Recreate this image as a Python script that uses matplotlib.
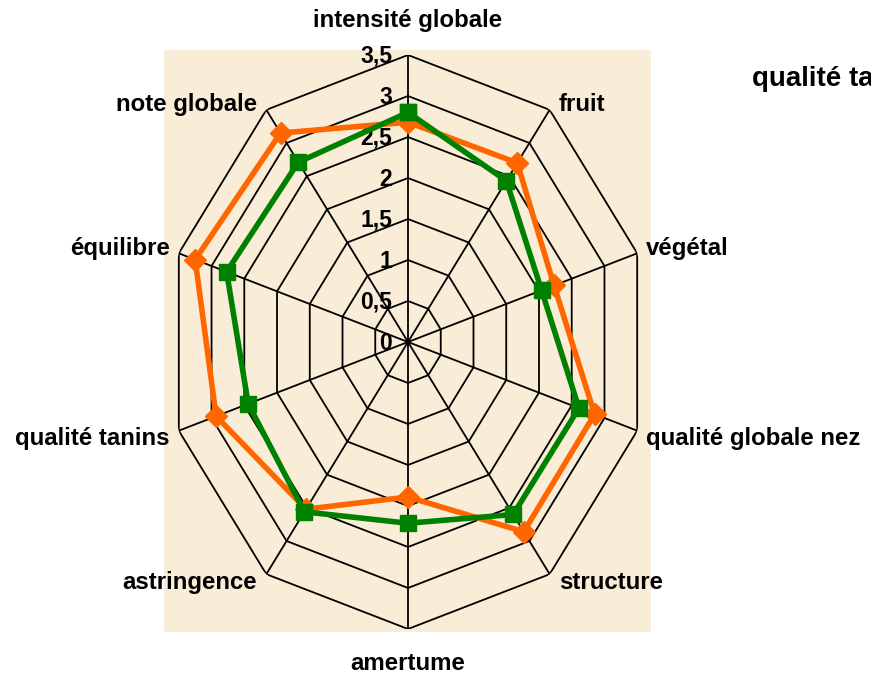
import numpy as np
import matplotlib.pyplot as plt
from matplotlib.patches import Rectangle

plt.rcParams["font.family"] = ["Liberation Sans", "DejaVu Sans"]

# descripteurs (sens horaire depuis le haut)
categories = ["intensité globale", "fruit", "végétal", "qualité globale nez", "structure",
              "amertume", "astringence", "qualité tanins", "équilibre", "note globale"]
serie_orange = [2.68, 2.70, 2.23, 2.85, 2.86, 1.89, 2.52, 2.93, 3.25, 3.15]
serie_verte = [2.80, 2.43, 2.04, 2.61, 2.60, 2.21, 2.56, 2.44, 2.77, 2.71]
niveaux = [0, 0.5, 1, 1.5, 2, 2.5, 3, 3.5]
titre = "qualité tanins"

W, H = 871, 675
fig = plt.figure(figsize=(W / 100, H / 100), dpi=100)

# fond "parchemin" de la zone de tracé
fig.patches.append(Rectangle((164 / W, 1 - 632 / H), 487 / W, 582 / H,
                             transform=fig.transFigure, facecolor="#F9EDD8",
                             edgecolor="none", zorder=-5))

# centre (408, 342), rayon 241 px en x et 287 px en y
ax = fig.add_axes([167 / W, 1 - 629 / H, 482 / W, 574 / H], projection="polar")
ax.set_aspect("auto")
ax.patch.set_visible(False)
ax.set_theta_offset(np.pi / 2)
ax.set_theta_direction(-1)
ax.set_ylim(0, 3.5)
ax.grid(False)
ax.set_xticks([])
ax.set_yticks([])
ax.spines["polar"].set_visible(False)

n = len(categories)
angles = np.linspace(0, 2 * np.pi, n, endpoint=False)
angles_fermes = np.append(angles, angles[0])

# grille polygonale
for lvl in niveaux[1:]:
    ax.plot(angles_fermes, [lvl] * (n + 1), color="black", lw=1.3, zorder=1)
for a in angles:
    ax.plot([a, a], [0, niveaux[-1]], color="black", lw=1.3, zorder=1)

# étiquettes de l'axe radial
for lvl in niveaux:
    ax.annotate(f"{lvl:g}".replace(".", ","), xy=(0, lvl), xytext=(-16, -1),
                textcoords="offset pixels", ha="right", va="center",
                fontsize=16.5, fontweight="bold", annotation_clip=False)

# séries
ax.plot(angles_fermes, serie_orange + serie_orange[:1], color="#FF6600", lw=4,
        marker="D", ms=11.5, zorder=3, clip_on=False)
ax.plot(angles_fermes, serie_verte + serie_verte[:1], color="#008000", lw=4,
        marker="s", ms=12, zorder=4, clip_on=False)

# libellés des catégories
for a, lab in zip(angles, categories):
    s, c = np.sin(a), np.cos(a)
    if s > 0.1:
        ha, dx = "left", 9
    elif s < -0.1:
        ha, dx = "right", -9
    else:
        ha, dx = "center", 0
    if abs(s) < 0.1:
        dy = 34 if c > 0 else -34
    else:
        dy = 5 if c > 0 else -8
    ax.annotate(lab, xy=(a, niveaux[-1]), xytext=(dx, dy), textcoords="offset pixels",
                ha=ha, va="center", fontsize=17.3, fontweight="bold", annotation_clip=False)

fig.text(752 / W, 1 - 79 / H, titre, ha="left", va="center", fontsize=20, fontweight="bold")

fig.savefig("out.png", dpi=100)
